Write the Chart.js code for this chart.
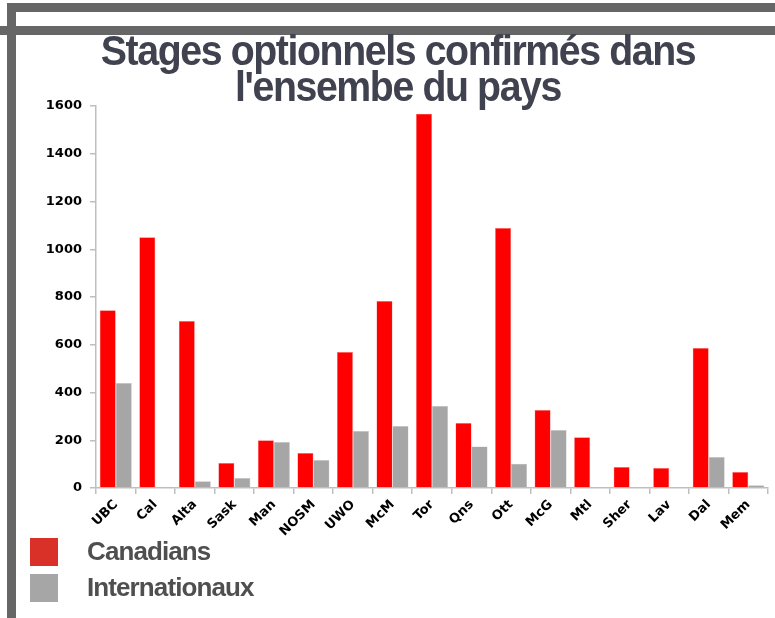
<!DOCTYPE html>
<html>
<head>
<meta charset="utf-8">
<script src="https://cdn.jsdelivr.net/npm/chart.js@4.4.0/dist/chart.umd.min.js"></script>
<style>
  body { margin: 0; background: #fff; width: 775px; height: 618px; overflow: hidden; position: relative; }
  .bar { position: absolute; background: #666666; }
  #title {
    position: absolute; left: 0; top: 33px; width: 796px; text-align: center;
    font-family: "Liberation Sans", Arial, sans-serif; font-weight: bold;
    font-size: 42px; line-height: 36px; letter-spacing: -1.5px; color: #40424f;
    transform: scaleX(0.935); transform-origin: 398px 0;
  }
  .leg { position: absolute; left: 30px; width: 28px; height: 28px; }
  .legtxt {
    position: absolute; left: 87px; font-family: "Liberation Sans", Arial, sans-serif;
    font-weight: bold; font-size: 26px; letter-spacing: -0.9px; color: #4f4f4f; line-height: 28px;
  }
  canvas { position: absolute; left: 0; top: 0; }
</style>
</head>
<body>
<div class="bar" style="left:7px; top:3px; width:768px; height:9px;"></div>
<div class="bar" style="left:0; top:26px; width:775px; height:9px;"></div>
<div class="bar" style="left:7px; top:3px; width:9px; height:615px;"></div>

<canvas id="myChart" width="775" height="618"></canvas>

<div id="title">Stages optionnels confirmés dans<br>l'ensembe du pays</div>

<div class="leg" style="top:538px; background:#d93027;"></div>
<div class="legtxt" style="top:537px;">Canadians</div>
<div class="leg" style="top:574px; background:#a6a6a6;"></div>
<div class="legtxt" style="top:573px;">Internationaux</div>

<script>
var schools = ["UBC", "Cal", "Alta", "Sask", "Man", "NOSM", "UWO", "McM", "Tor", "Qns", "Ott", "McG", "Mtl", "Sher", "Lav", "Dal", "Mem"];
var canadians = [745, 1050, 700, 105, 200, 147, 570, 783, 1568, 272, 1089, 327, 213, 88, 84, 586, 67];
var internationaux = [440, 5, 28, 42, 193, 117, 239, 260, 343, 174, 102, 243, 0, 0, 0, 130, 12];
var yTicks = [0, 200, 400, 600, 800, 1000, 1200, 1400, 1600];

var tickFont = { family: "DejaVu Sans", weight: "bold", size: 13 };

new Chart("myChart", {
  type: "bar",
  data: {
    labels: schools,
    datasets: [
      { label: "Canadians", data: canadians, backgroundColor: "#ff0000", borderColor: "#ff8080", borderWidth: 0.5 },
      { label: "Internationaux", data: internationaux, backgroundColor: "#a6a6a6", borderColor: "#c8c8c8", borderWidth: 0.5 }
    ]
  },
  options: {
    responsive: false,
    animation: false,
    layout: { padding: { top: 106, right: 7, left: 0, bottom: 0 } },
    datasets: { bar: { categoryPercentage: 0.81, barPercentage: 1 } },
    plugins: {
      legend: { display: false },
      tooltip: { enabled: false },
      title: { display: false }
    },
    scales: {
      x: {
        afterFit: function (scale) { scale.height = 130; },
        border: { color: "#bfbfbf", width: 1.5 },
        grid: { drawOnChartArea: false, tickLength: 6, color: "#bfbfbf", lineWidth: 1.5 },
        ticks: { color: "#000", font: tickFont, minRotation: 45, maxRotation: 45, padding: 3 }
      },
      y: {
        min: 0,
        max: 1600,
        afterFit: function (scale) { scale.width = 96; },
        afterBuildTicks: function (scale) {
          scale.ticks = yTicks.map(function (v) { return { value: v }; });
        },
        border: { color: "#bfbfbf", width: 1.5 },
        grid: { drawOnChartArea: false, tickLength: 6, color: "#bfbfbf", lineWidth: 1.5 },
        ticks: {
          color: "#000", font: tickFont, padding: 8,
          callback: function (value) { return String(value); }
        }
      }
    }
  }
});
</script>
</body>
</html>
